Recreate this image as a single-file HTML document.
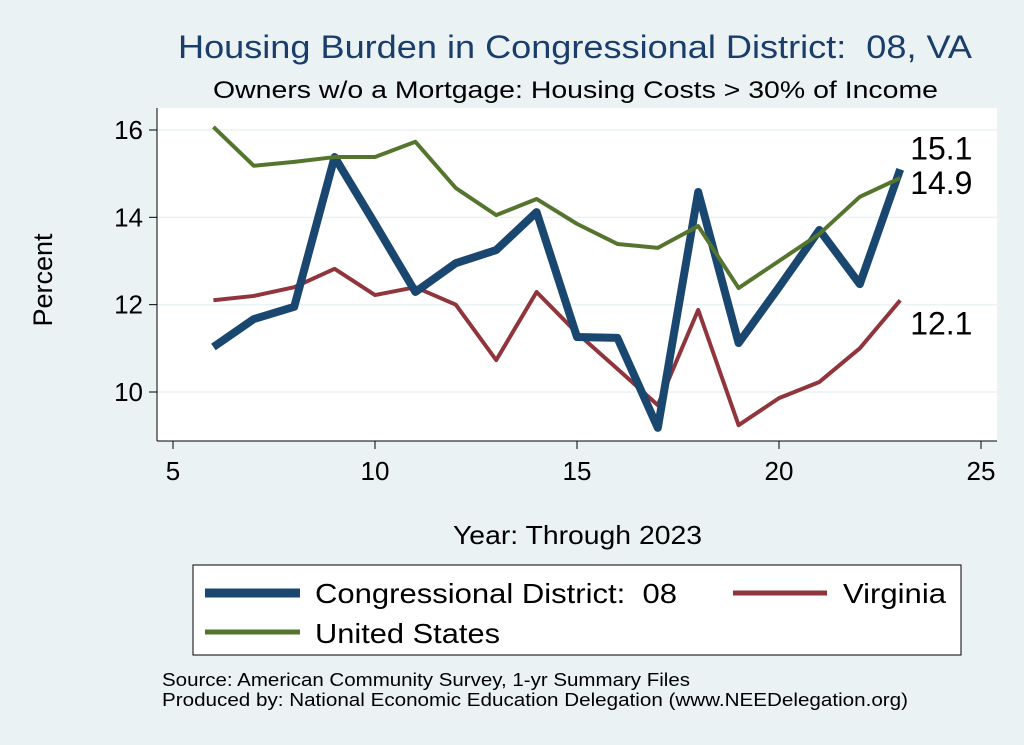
<!DOCTYPE html>
<html><head><meta charset="utf-8"><style>
body{margin:0;background:#eaf2f3;}
svg{display:block;font-family:"Liberation Sans",sans-serif;}
text{white-space:pre;}
</style></head><body>
<svg id="c" width="1024" height="745">
<rect x="0" y="0" width="1024" height="745" fill="#eaf2f3"/>
<text x="178" y="58" font-size="32" fill="#1a3d6b" textLength="794" lengthAdjust="spacingAndGlyphs">Housing Burden in Congressional District:  08, VA</text>
<text x="213" y="98" font-size="24" fill="#000" textLength="725" lengthAdjust="spacingAndGlyphs">Owners w/o a Mortgage: Housing Costs &gt; 30% of Income</text>
<rect x="157" y="108" width="840" height="333" fill="#fff"/>
<g id="grid"></g><g id="axes"></g><g id="series"></g>
<text x="52" y="280" font-size="27" text-anchor="middle" transform="rotate(-90 52 280)">Percent</text>
<text x="453" y="544" font-size="26" textLength="249" lengthAdjust="spacingAndGlyphs">Year: Through 2023</text>
<g>
<rect x="193" y="565" width="768" height="90" fill="#fff" stroke="#000" stroke-width="1"/>
<line x1="205" y1="593" x2="300" y2="593" stroke="#1a476f" stroke-width="9"/>
<text x="315" y="603" font-size="28" textLength="362" lengthAdjust="spacingAndGlyphs">Congressional District:  08</text>
<line x1="733" y1="593" x2="827" y2="593" stroke="#90353b" stroke-width="5"/>
<text x="843" y="603" font-size="28" textLength="103" lengthAdjust="spacingAndGlyphs">Virginia</text>
<line x1="205" y1="632" x2="300" y2="632" stroke="#55752f" stroke-width="5"/>
<text x="315" y="643" font-size="28" textLength="185" lengthAdjust="spacingAndGlyphs">United States</text>
</g>
<text x="162" y="686" font-size="18" textLength="528" lengthAdjust="spacingAndGlyphs">Source: American Community Survey, 1-yr Summary Files</text>
<text x="162" y="706" font-size="18" textLength="746" lengthAdjust="spacingAndGlyphs">Produced by: National Economic Education Delegation (www.NEEDelegation.org)</text>
</svg>
<script>
const years=[6,7,8,9,10,11,12,13,14,15,16,17,18,19,20,21,22,23];
const district=[11.03,11.67,11.95,15.38,13.85,12.29,12.95,13.25,14.12,11.26,11.24,9.18,14.58,11.12,12.4,13.71,12.47,15.1];
const virginia=[12.1,12.2,12.4,12.82,12.22,12.4,12.0,10.73,12.29,11.35,10.53,9.7,11.88,9.24,9.86,10.23,11.0,12.1];
const us=[16.07,15.18,15.27,15.38,15.38,15.73,14.67,14.05,14.42,13.85,13.39,13.3,13.8,12.38,13.0,13.62,14.47,14.9];
const xTicks=[5,10,15,20,25];
const yTicks=[10,12,14,16];
const NS='http://www.w3.org/2000/svg';
const X=v=>173+(v-5)*40.4;
const Y=v=>392-(v-10)*43.67;
function mk(t,a,p){const e=document.createElementNS(NS,t);for(const k in a)e.setAttribute(k,a[k]);p.appendChild(e);return e;}
const grid=document.getElementById('grid'),axes=document.getElementById('axes'),ser=document.getElementById('series');
yTicks.forEach(v=>{
 const g=mk('line',{x1:157,x2:997,y1:Y(v),y2:Y(v),stroke:'#eaf2f3','stroke-width':1.5},grid);
 
 
 mk('line',{x1:149,x2:157,y1:Y(v),y2:Y(v),stroke:'#000'},axes);
 const t=mk('text',{x:143,y:Y(v)+9,'font-size':26,'text-anchor':'end'},axes);t.textContent=v;
 
 
});
mk('line',{x1:157,x2:157,y1:108,y2:441,stroke:'#000'},axes);
mk('line',{x1:157,x2:997,y1:441,y2:441,stroke:'#000'},axes);
xTicks.forEach(v=>{
 mk('line',{x1:X(v),x2:X(v),y1:441,y2:449,stroke:'#000'},axes);
 const t=mk('text',{x:X(v),y:480,'font-size':26,'text-anchor':'middle'},axes);t.textContent=v;
 
 
});
function line(vals,col,w,name){
 const p=mk('polyline',{points:years.map((y,i)=>X(y)+','+Y(vals[i])).join(' '),fill:'none',stroke:col,'stroke-width':w,'stroke-linejoin':'round'},ser);
 
 
}
line(virginia,'#90353b',4,'virginia-line');
line(district,'#1a476f',8,'district-line');
line(us,'#55752f',4,'us-line');
const n=years.length-1;
[[district,-20,'district-end-label'],[us,6,'us-end-label'],[virginia,24,'virginia-end-label']].forEach(([s,dy,nm])=>{
 const t=mk('text',{x:X(years[n])+10,y:Y(s[n])+dy+10,'font-size':32},ser);t.textContent=s[n].toFixed(1);
 
 
});
</script>
</body></html>
